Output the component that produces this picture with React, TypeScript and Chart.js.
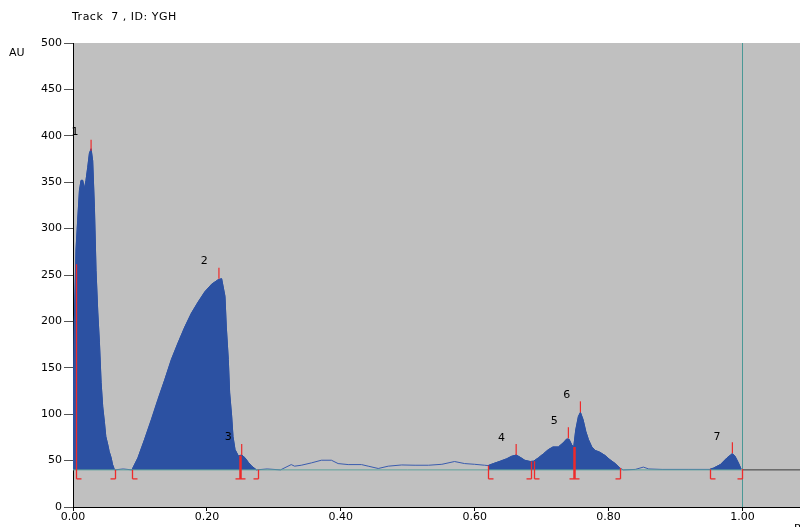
import React, { useEffect, useRef } from "react";
import { Chart, registerables } from "chart.js";
Chart.register(...registerables);

// Densitometric profile (Rf vs AU)
const rf = [
  0.0, 0.002, 0.0045, 0.007, 0.0096, 0.012, 0.0145, 0.017, 0.0194, 0.022, 0.0245, 0.027, 0.0294, 0.032, 0.0344,
  0.037, 0.0395, 0.042, 0.0444, 0.047, 0.049, 0.052, 0.054, 0.057, 0.059, 0.062, 0.075, 0.088, 0.097, 0.107, 0.117,
  0.127, 0.137, 0.147, 0.157, 0.167, 0.177, 0.187, 0.197, 0.207, 0.217, 0.222, 0.227, 0.229, 0.232, 0.234, 0.237,
  0.239, 0.242, 0.247, 0.252, 0.257, 0.262, 0.267, 0.274, 0.29, 0.31, 0.326, 0.331, 0.341, 0.356, 0.371, 0.386,
  0.396, 0.411, 0.431, 0.441, 0.456, 0.471, 0.491, 0.511, 0.531, 0.551, 0.57, 0.585, 0.6, 0.615, 0.62, 0.628,
  0.638, 0.648, 0.655, 0.662, 0.668, 0.675, 0.683, 0.688, 0.695, 0.703, 0.71, 0.717, 0.725, 0.732, 0.7375, 0.741,
  0.745, 0.748, 0.751, 0.755, 0.758, 0.762, 0.766, 0.77, 0.775, 0.78, 0.787, 0.795, 0.802, 0.81, 0.817, 0.822,
  0.84, 0.852, 0.86, 0.88, 0.92, 0.951, 0.957, 0.967, 0.977, 0.985, 0.989, 0.994, 0.998,
];
const au = [
  62, 200, 277, 309, 341, 352, 352, 343, 352, 366, 381, 386, 373, 323, 255,
  210, 177, 134, 108, 91, 76, 67, 60, 53, 46, 40, 41, 40, 53, 73, 94,
  116, 137, 159, 177, 194, 209, 221, 232, 240, 245, 246, 227, 194, 159, 123, 98,
  76, 62, 55, 56, 53, 48, 44, 40, 41, 40, 45.7, 44, 45, 47.5, 50.4, 50.4,
  46.8, 45.7, 45.7, 44, 41.5, 44, 45.3, 45, 45, 46, 49, 46.8, 46, 45, 44.6, 46.8,
  49.3, 52, 54.6, 56, 53.6, 50.3, 49, 49.4, 52.9, 57.5, 61.8, 64.7, 64.7, 69, 73.3, 73,
  67, 64.7, 83, 97.6, 102, 94, 81.5, 72.6, 64.7, 61, 59, 55.4, 51, 46.8, 42, 40,
  40.5, 43, 41, 40.5, 40.5, 40.5, 42, 45.7, 53, 57.5, 54.6, 47.5, 41,
];

const baselineAU = 40;
const frontRf = 1.0;
const xMax = 1.086;
const xTicks = [0, 0.2, 0.4, 0.6, 0.8, 1.0];
const yMin = 0;
const yMax = 500;
const yStep = 50;

const peakNames = ["1", "2", "3", "4", "5", "6", "7"];
const peakStart = [0.004, 0.088, 0.249, 0.62, 0.688, 0.748, 0.951];
const peakEnd = [0.063, 0.249, 0.277, 0.684, 0.748, 0.817, 0.999];
const apexRf = [0.027, 0.218, 0.252, 0.662, 0.74, 0.758, 0.985];
const apexAU = [384, 246, 56, 56, 74, 102, 58];
const labelRf = [0.003, 0.196, 0.232, 0.64, 0.719, 0.7375, 0.962];
const labelAU = [404, 265, 75, 74, 93, 121, 75];

const titleText = "Track  7 , ID: YGH";
const yUnit = "AU";
const xUnit = "Rf";

function profileAt(x: number): number {
  if (x <= rf[0]) return au[0];
  for (let i = 1; i < rf.length; i++) {
    if (x <= rf[i]) {
      const t = (x - rf[i - 1]) / (rf[i] - rf[i - 1]);
      return au[i - 1] + t * (au[i] - au[i - 1]);
    }
  }
  return au[au.length - 1];
}

const inPeak = (x: number) =>
  peakStart.some((s, i) => x >= (i === 0 ? rf[0] : s) && x <= peakEnd[i]);

const BLUE = "#2c51a2";
const RED = "#ee2a2a";

const decorPlugin = {
  id: "decor",
  beforeDraw(chart: any) {
    const { ctx, chartArea: a } = chart;
    ctx.save();
    ctx.fillStyle = "#c0c0c0";
    ctx.fillRect(a.left, a.top, a.right - a.left, a.bottom - a.top);
    ctx.restore();
  },
  afterDatasetsDraw(chart: any) {
    const { ctx, chartArea: a, scales } = chart;
    const xs = scales.x;
    const ys = scales.y;
    const yb = ys.getPixelForValue(baselineAU);
    ctx.save();
    // solvent front line
    const xf = Math.round(xs.getPixelForValue(frontRf)) + 0.5;
    ctx.strokeStyle = "#4a9896";
    ctx.lineWidth = 1;
    ctx.beginPath();
    ctx.moveTo(xf, a.top);
    ctx.lineTo(xf, a.bottom);
    ctx.stroke();

    ctx.strokeStyle = RED;
    // apex ticks
    ctx.lineWidth = 1.2;
    apexRf.forEach((x, i) => {
      const px = xs.getPixelForValue(x);
      const py = ys.getPixelForValue(apexAU[i]);
      ctx.beginPath();
      ctx.moveTo(px, py);
      ctx.lineTo(px, py - 11);
      ctx.stroke();
    });
    // boundary markers
    const marks: { x: number; left: boolean; right: boolean; shared: boolean }[] = [];
    peakStart.forEach((s, i) => {
      const shared = i > 0 && peakEnd[i - 1] === s;
      marks.push({ x: s, left: shared, right: true, shared });
      const sharedNext = i < peakStart.length - 1 && peakStart[i + 1] === peakEnd[i];
      if (!sharedNext) marks.push({ x: peakEnd[i], left: true, right: false, shared: false });
    });
    marks.forEach((m) => {
      const px = Math.round(xs.getPixelForValue(m.x)) + 0.5;
      const top = ys.getPixelForValue(profileAt(m.x));
      const bot = yb + 9;
      ctx.lineWidth = m.shared ? 2.5 : 1.3;
      ctx.beginPath();
      ctx.moveTo(px, top);
      ctx.lineTo(px, bot);
      ctx.stroke();
      ctx.lineWidth = 1.3;
      ctx.beginPath();
      ctx.moveTo(px - (m.left ? 5 : 0), bot);
      ctx.lineTo(px + (m.right ? 5 : 0), bot);
      ctx.stroke();
    });
    // peak labels
    ctx.fillStyle = "#000";
    ctx.font = "11px 'DejaVu Sans'";
    ctx.textAlign = "center";
    ctx.textBaseline = "middle";
    peakNames.forEach((n, i) => {
      ctx.fillText(n, xs.getPixelForValue(labelRf[i]), ys.getPixelForValue(labelAU[i]));
    });
    ctx.restore();
  },
  afterDraw(chart: any) {
    const { ctx } = chart;
    ctx.save();
    ctx.fillStyle = "#000";
    ctx.textBaseline = "middle";
    ctx.textAlign = "left";
    ctx.font = "11px 'DejaVu Sans'";
    (ctx as any).letterSpacing = "0.5px";
    ctx.fillText(titleText, 72, 17);
    (ctx as any).letterSpacing = "0px";
    ctx.fillText(yUnit, 9, 53);
    ctx.textBaseline = "top";
    ctx.fillText(xUnit, 794, 524);
    ctx.restore();
  },
};

export default function App() {
  const ref = useRef<HTMLCanvasElement | null>(null);
  useEffect(() => {
    document.body.style.margin = "0";
    const canvas = ref.current!;
    const profile = rf.map((x, i) => ({ x, y: au[i] }));
    const fillData = rf.map((x, i) => ({ x, y: inPeak(x) ? au[i] : null }));
    const chart = new Chart(canvas, {
      type: "line",
      data: {
        datasets: [
          {
            data: [
              { x: 0, y: baselineAU },
              { x: frontRf, y: baselineAU },
            ],
            borderColor: "#5fa39a",
            borderWidth: 1,
            pointRadius: 0,
            fill: false,
            order: 0,
          },
          {
            data: [
              { x: frontRf, y: baselineAU },
              { x: xMax, y: baselineAU },
            ],
            borderColor: "#3a3a3a",
            borderWidth: 1,
            pointRadius: 0,
            fill: false,
            order: 0,
          },
          {
            data: fillData as any,
            borderColor: BLUE,
            backgroundColor: BLUE,
            borderWidth: 1,
            pointRadius: 0,
            fill: { value: baselineAU },
            spanGaps: false,
            order: 1,
          },
          {
            data: profile,
            borderColor: "#3a5cae",
            borderWidth: 1,
            pointRadius: 0,
            fill: false,
            order: 2,
          },
        ],
      },
      options: {
        responsive: false,
        animation: false,
        devicePixelRatio: 1,
        layout: { padding: { top: 43, left: 0, right: 0, bottom: 0 } },
        plugins: { legend: { display: false }, tooltip: { enabled: false }, title: { display: false } },
        scales: {
          x: {
            type: "linear",
            min: 0,
            max: xMax,
            afterBuildTicks: (s: any) => {
              s.ticks = xTicks.map((v) => ({ value: v }));
            },
            afterFit: (s: any) => {
              s.height = 20;
            },
            ticks: {
              color: "#000",
              font: { family: "'DejaVu Sans'", size: 11 },
              padding: 0,
              maxRotation: 0,
              autoSkip: false,
              callback: (v: any) => Number(v).toFixed(2),
            },
            grid: { display: true, drawOnChartArea: false, drawTicks: true, tickLength: 4, tickColor: "#000" },
            border: { display: true, color: "#000", width: 1 },
          },
          y: {
            type: "linear",
            min: yMin,
            max: yMax,
            afterFit: (s: any) => {
              s.width = 73;
            },
            ticks: {
              stepSize: yStep,
              color: "#000",
              font: { family: "'DejaVu Sans'", size: 11 },
              padding: 2,
            },
            grid: { display: true, drawOnChartArea: false, drawTicks: true, tickLength: 9, tickColor: "#555" },
            border: { display: true, color: "#000", width: 1 },
          },
        },
      },
      plugins: [decorPlugin],
    });
    return () => chart.destroy();
  }, []);
  return <canvas ref={ref} width={800} height={527} style={{ display: "block" }} />;
}
